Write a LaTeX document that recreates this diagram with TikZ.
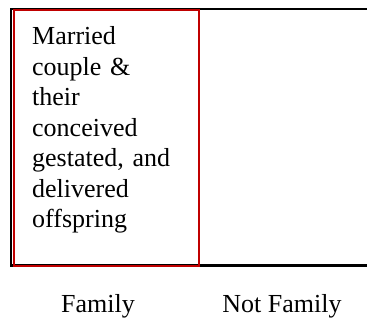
\documentclass[tikz,border=0pt]{standalone}
\usepackage{fontspec}
\setmainfont{Liberation Serif}
\usetikzlibrary{positioning}
\definecolor{CELL-RED}{RGB}{192, 0, 0}

\begin{document}
\begin{tikzpicture}[x=1pt,y=1pt,
    cell/.style={draw, rectangle, inner sep=0pt, anchor=south west},
    label/.style={font=\fontsize{26}{30.5}\selectfont, inner sep=0pt, anchor=base}]
  \useasboundingbox (0,0) rectangle (367,322);

  % Outer frame (open on the right)
  \draw[black, line width=2.2pt] (367,313) -- (11,313) -- (11,56.5) -- (367,56.5);

  % Family cell
  \node[cell, draw=CELL-RED, line width=2pt, minimum width=185pt, minimum height=256pt]
    (family) at (13,55) {};
  \node[anchor=base west, inner sep=0pt, align=left, text width=160pt,
    font=\fontsize{26}{30.5}\selectfont] (famtext) at (32,277)
    {Married\\couple \&\\their\\conceived\\gestated, and\\delivered\\offspring};

  % Column labels
  \node[label] (famlabel) at (98,10) {Family};
  \node[label] (notfamlabel) at (282,10) {Not Family};
\end{tikzpicture}
\end{document}
